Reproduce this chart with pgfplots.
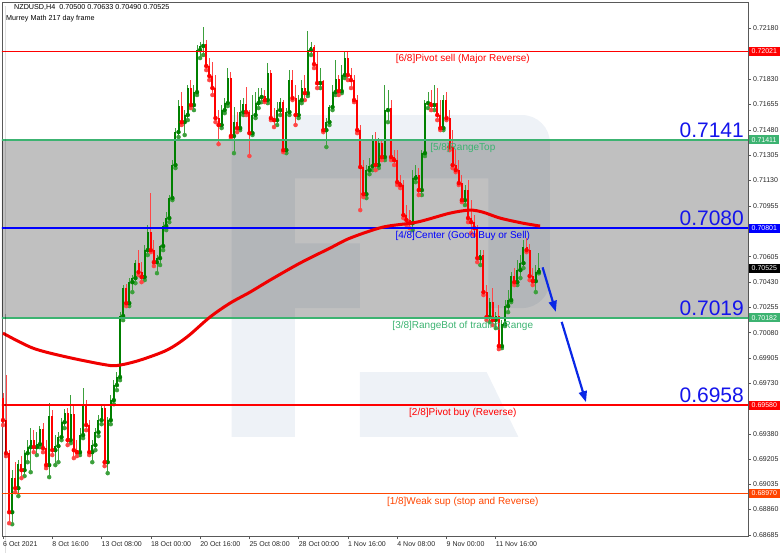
\documentclass[border=0pt]{standalone}
\usepackage{pgfplots}
\pgfplotsset{compat=1.18}
\usepackage{pgfplotstable}
\usepackage{fontspec}
\setmainfont{Liberation Sans}
\usetikzlibrary{arrows.meta}

\definecolor{upc}{RGB}{0,128,0}
\definecolor{upw}{RGB}{60,160,60}
\definecolor{dnc}{RGB}{255,0,0}
\definecolor{dnw}{RGB}{255,70,70}
\definecolor{wm}{RGB}{238,242,247}
\definecolor{lvgreen}{RGB}{60,179,113}
\definecolor{lvred}{RGB}{255,0,0}
\definecolor{lvblue}{RGB}{0,0,255}
\definecolor{lvorange}{RGB}{255,69,0}
\definecolor{numblue}{RGB}{20,20,235}
\definecolor{arrowblue}{RGB}{10,40,230}
\definecolor{maline}{RGB}{240,0,0}

% H4 candles, x = bar number
\pgfplotstableread{
x o h l c
0 0.69629 0.69663 0.69443 0.69477
1 0.69477 0.69788 0.69229 0.69249
2 0.69249 0.69270 0.68766 0.68842
3 0.68842 0.69132 0.68759 0.69077
4 0.69077 0.69187 0.68980 0.69008
5 0.69008 0.69201 0.68953 0.69173
6 0.69173 0.69229 0.69077 0.69132
7 0.69132 0.69270 0.69091 0.69249
8 0.69249 0.69339 0.69187 0.69291
9 0.69291 0.69422 0.69118 0.69339
10 0.69339 0.69408 0.69256 0.69291
11 0.69291 0.69394 0.69236 0.69311
12 0.69311 0.69436 0.69291 0.69415
13 0.69415 0.69456 0.69256 0.69284
14 0.69284 0.69339 0.69146 0.69167
15 0.69167 0.69594 0.69084 0.69505
16 0.69505 0.69546 0.69236 0.69270
17 0.69270 0.69374 0.69167 0.69298
18 0.69298 0.69394 0.69187 0.69360
19 0.69360 0.69491 0.69339 0.69463
20 0.69463 0.69553 0.69422 0.69525
21 0.69525 0.69560 0.69305 0.69339
22 0.69339 0.69650 0.69318 0.69518
23 0.69518 0.69581 0.69215 0.69270
24 0.69270 0.69339 0.69229 0.69256
25 0.69256 0.69422 0.69236 0.69374
26 0.69374 0.69698 0.69353 0.69581
27 0.69581 0.69615 0.69408 0.69443
28 0.69443 0.69477 0.69236 0.69256
29 0.69256 0.69339 0.69187 0.69305
30 0.69305 0.69422 0.69270 0.69394
31 0.69394 0.69512 0.69367 0.69477
32 0.69477 0.69581 0.69449 0.69560
33 0.69560 0.69574 0.69160 0.69187
34 0.69187 0.69498 0.69111 0.69477
35 0.69477 0.69650 0.69449 0.69615
36 0.69615 0.69753 0.69587 0.69719
37 0.69719 0.69808 0.69684 0.69774
38 0.69774 0.70222 0.69753 0.70195
39 0.70195 0.70409 0.70167 0.70388
40 0.70388 0.70415 0.70264 0.70284
41 0.70284 0.70457 0.70264 0.70429
42 0.70429 0.70478 0.70360 0.70457
43 0.70457 0.70581 0.70422 0.70560
44 0.70560 0.70650 0.70478 0.70498
45 0.70498 0.70567 0.70429 0.70464
46 0.70464 0.70685 0.70443 0.70650
47 0.70650 0.70823 0.70616 0.70774
48 0.70774 0.71043 0.70636 0.70650
49 0.70650 0.70719 0.70540 0.70567
50 0.70567 0.70616 0.70491 0.70595
51 0.70595 0.70685 0.70547 0.70678
52 0.70678 0.70843 0.70650 0.70816
53 0.70816 0.70912 0.70788 0.70871
54 0.70871 0.71030 0.70843 0.71009
55 0.71009 0.71271 0.70995 0.71237
56 0.71237 0.71492 0.71216 0.71464
57 0.71464 0.71685 0.71430 0.71644
58 0.71644 0.71740 0.71513 0.71533
59 0.71533 0.71616 0.71444 0.71582
60 0.71582 0.71789 0.71547 0.71768
61 0.71768 0.71823 0.71630 0.71651
62 0.71651 0.71789 0.71616 0.71740
63 0.71740 0.72065 0.71720 0.72030
64 0.72030 0.72085 0.71975 0.72058
65 0.72058 0.72189 0.71996 0.72071
66 0.72071 0.72099 0.71892 0.71920
67 0.71920 0.71975 0.71823 0.71851
68 0.71851 0.71947 0.71720 0.71768
69 0.71768 0.71858 0.71533 0.71561
70 0.71561 0.71616 0.71381 0.71513
71 0.71513 0.71651 0.71492 0.71616
72 0.71616 0.71699 0.71595 0.71664
73 0.71664 0.71906 0.71644 0.71837
74 0.71837 0.71878 0.71423 0.71437
75 0.71437 0.71637 0.71319 0.71533
76 0.71533 0.71602 0.71464 0.71492
77 0.71492 0.71685 0.71478 0.71602
78 0.71602 0.71699 0.71582 0.71657
79 0.71657 0.71775 0.71582 0.71602
80 0.71602 0.71616 0.71299 0.71457
81 0.71457 0.71720 0.71444 0.71582
82 0.71582 0.71740 0.71561 0.71664
83 0.71664 0.71768 0.71630 0.71706
84 0.71706 0.71768 0.71671 0.71713
85 0.71713 0.71754 0.71671 0.71685
86 0.71685 0.71940 0.71664 0.71871
87 0.71871 0.71892 0.71547 0.71561
88 0.71561 0.71630 0.71499 0.71547
89 0.71547 0.71671 0.71513 0.71616
90 0.71616 0.71699 0.71582 0.71671
91 0.71671 0.71685 0.71326 0.71340
92 0.71340 0.71630 0.71319 0.71602
93 0.71602 0.71892 0.71582 0.71823
94 0.71823 0.71892 0.71685 0.71699
95 0.71699 0.71789 0.71513 0.71582
96 0.71582 0.71720 0.71561 0.71685
97 0.71685 0.71823 0.71664 0.71768
98 0.71768 0.71858 0.71685 0.71733
99 0.71733 0.72161 0.71713 0.72030
100 0.72030 0.72085 0.71996 0.72051
101 0.72051 0.72065 0.71906 0.71933
102 0.71933 0.72016 0.71768 0.71802
103 0.71802 0.71906 0.71768 0.71816
104 0.71816 0.71823 0.71464 0.71478
105 0.71478 0.71561 0.71361 0.71533
106 0.71533 0.71651 0.71513 0.71637
107 0.71637 0.71789 0.71616 0.71740
108 0.71740 0.71961 0.71720 0.71830
109 0.71830 0.71858 0.71720 0.71747
110 0.71747 0.71927 0.71733 0.71858
111 0.71858 0.72016 0.71837 0.71975
112 0.71975 0.72016 0.71823 0.71858
113 0.71858 0.71906 0.71768 0.71823
114 0.71823 0.71858 0.71671 0.71685
115 0.71685 0.71720 0.71457 0.71478
116 0.71478 0.71513 0.70926 0.71223
117 0.71223 0.71271 0.71016 0.71036
118 0.71036 0.71237 0.71009 0.71202
119 0.71202 0.71285 0.71174 0.71230
120 0.71230 0.71444 0.71202 0.71409
121 0.71409 0.71464 0.71202 0.71237
122 0.71237 0.71423 0.71216 0.71388
123 0.71388 0.71409 0.71271 0.71292
124 0.71292 0.71789 0.71271 0.71616
125 0.71616 0.71754 0.71533 0.71630
126 0.71630 0.71685 0.71271 0.71292
127 0.71292 0.71340 0.71237 0.71271
128 0.71271 0.71340 0.71099 0.71119
129 0.71119 0.71168 0.71078 0.71099
130 0.71099 0.71133 0.70871 0.70892
131 0.70892 0.70961 0.70823 0.70857
132 0.70857 0.70926 0.70802 0.70836
133 0.70836 0.71202 0.70788 0.71147
134 0.71147 0.71237 0.71119 0.71168
135 0.71168 0.71216 0.71030 0.71064
136 0.71064 0.71340 0.71030 0.71319
137 0.71319 0.71685 0.71299 0.71664
138 0.71664 0.71740 0.71630 0.71671
139 0.71671 0.71754 0.71616 0.71651
140 0.71651 0.71789 0.71616 0.71664
141 0.71664 0.71768 0.71547 0.71582
142 0.71582 0.71685 0.71478 0.71492
143 0.71492 0.71720 0.71478 0.71685
144 0.71685 0.71740 0.71547 0.71561
145 0.71561 0.71616 0.71340 0.71361
146 0.71361 0.71478 0.71216 0.71237
147 0.71237 0.71340 0.71188 0.71202
148 0.71202 0.71271 0.71099 0.71112
149 0.71112 0.71168 0.70981 0.70995
150 0.70995 0.71099 0.70961 0.71064
151 0.71064 0.71133 0.70843 0.70871
152 0.70871 0.70995 0.70767 0.70843
153 0.70843 0.70892 0.70754 0.70802
154 0.70802 0.70823 0.70567 0.70595
155 0.70595 0.70650 0.70547 0.70616
156 0.70616 0.70650 0.70340 0.70360
157 0.70360 0.70409 0.70167 0.70188
158 0.70188 0.70319 0.70153 0.70291
159 0.70291 0.70388 0.70133 0.70167
160 0.70167 0.70222 0.70112 0.70195
161 0.70195 0.70271 0.69967 0.69988
162 0.69988 0.70167 0.69974 0.70139
163 0.70139 0.70305 0.70126 0.70264
164 0.70264 0.70374 0.70222 0.70305
165 0.70305 0.70498 0.70291 0.70471
166 0.70471 0.70526 0.70409 0.70429
167 0.70429 0.70581 0.70409 0.70512
168 0.70512 0.70616 0.70457 0.70560
169 0.70560 0.70719 0.70526 0.70671
170 0.70671 0.70733 0.70636 0.70650
171 0.70650 0.70691 0.70443 0.70471
172 0.70471 0.70526 0.70409 0.70436
173 0.70436 0.70547 0.70360 0.70500
174 0.70500 0.70633 0.70490 0.70525
}\candles

% moving average (red curve)
\pgfplotstableread{
x ma
0 0.70077
9.7 0.69974
20.8 0.69912
33.8 0.69857
38 0.69857
44.5 0.69891
53.2 0.69960
59.7 0.70050
67.2 0.70188
73.7 0.70284
80.2 0.70360
86.7 0.70443
96.4 0.70560
106.2 0.70664
112.7 0.70733
123.4 0.70809
134.4 0.70843
145.1 0.70905
151.6 0.70926
155.8 0.70912
161.4 0.70871
168.8 0.70836
174.4 0.70816
}\matable

\begin{document}
\begin{tikzpicture}
\path[use as bounding box] (0,0) rectangle (782pt,553pt);
\begin{axis}[
  at={(2pt,17pt)}, anchor=south west,
  scale only axis, width=746pt, height=534pt,
  xmin=-0.32, xmax=241.9, ymin=0.68677, ymax=0.72361,
  clip mode=individual,
  axis line style={black!65, line width=0.8pt},
  tick align=outside, major tick length=3pt,
  tick style={black!65, line width=0.6pt},
  xtick pos=left, ytick pos=right, yticklabel pos=right,
  xtick={0,16,32,48,64,80,96,112,128,144,160},
  xticklabels={6 Oct 2021, 8 Oct 16:00, 13 Oct 08:00, 18 Oct 00:00, 20 Oct 16:00,
    25 Oct 08:00, 28 Oct 00:00, 1 Nov 16:00, 4 Nov 08:00, 9 Nov 00:00, 11 Nov 16:00},
  xticklabel style={anchor=north west, inner sep=0pt, yshift=-2pt},
  ytick={0.68685,0.68860,0.69035,0.69205,0.69380,0.69730,0.69905,0.70080,
    0.70255,0.70430,0.70605,0.70955,0.71130,0.71305,0.71480,0.71655,
    0.71830,0.72180},
  yticklabels={0.68685,0.68860,0.69035,0.69205,0.69380,0.69730,0.69905,0.70080,
    0.70255,0.70430,0.70605,0.70955,0.71130,0.71305,0.71480,0.71655,
    0.71830,0.72180},
  yticklabel style={anchor=west, inner sep=0pt, xshift=2pt},
  ticklabel style={font=\fontsize{7}{8}\selectfont, text=black!85},
]
% faint "R" watermark
\fill[wm] (axis cs:74.25,0.71582) [rounded corners=28pt] -- (axis cs:177.6,0.71582)
  -- (axis cs:177.6,0.70250) [sharp corners] -- (axis cs:157.57,0.70250)
  -- (axis cs:157.57,0.71145) -- (axis cs:94.81,0.71145) -- (axis cs:94.81,0.70696)
  -- (axis cs:115.91,0.70696) -- (axis cs:115.91,0.70250) -- (axis cs:94.81,0.70250)
  -- (axis cs:94.81,0.69362) -- (axis cs:74.25,0.69362) -- cycle;
\fill[wm] (axis cs:115.91,0.69808) -- (axis cs:157.05,0.69808)
  -- (axis cs:167.31,0.69362) -- (axis cs:115.91,0.69362) -- cycle;

% range band (darkens what lies under it)
\addplot[draw=none, fill=black, fill opacity=0.247, forget plot] coordinates
  {(-1,0.70182) (-1,0.71411) (243,0.71411) (243,0.70182)};

% wicks
\addplot[upw, only marks, mark=none, forget plot,
  restrict expr to domain={\thisrow{c}-\thisrow{o}}{0:1},
  error bars/.cd, y dir=plus, y explicit, error mark=none,
  error bar style={line width=0.9pt}]
  table[x=x, y=l, y error plus expr=\thisrow{h}-\thisrow{l}] {\candles};
\addplot[dnw, only marks, mark=none, forget plot,
  restrict expr to domain={\thisrow{c}-\thisrow{o}}{-1:0},
  error bars/.cd, y dir=plus, y explicit, error mark=none,
  error bar style={line width=0.9pt}]
  table[x=x, y=l, y error plus expr=\thisrow{h}-\thisrow{l}] {\candles};
% bodies
\addplot[upc, only marks, mark=none, forget plot,
  restrict expr to domain={\thisrow{c}-\thisrow{o}}{0:1},
  error bars/.cd, y dir=plus, y explicit, error mark=none,
  error bar style={line width=2pt}]
  table[x=x, y=o, y error plus expr=\thisrow{c}-\thisrow{o}] {\candles};
\addplot[dnc, only marks, mark=none, forget plot,
  restrict expr to domain={\thisrow{c}-\thisrow{o}}{-1:0},
  error bars/.cd, y dir=plus, y explicit, error mark=none,
  error bar style={line width=2pt}]
  table[x=x, y=c, y error plus expr=\thisrow{o}-\thisrow{c}] {\candles};

% Murrey Math levels
\addplot[draw=lvred, line width=1.5pt, mark=none] coordinates {(-1,0.72021) (243,0.72021)};
\addplot[draw=lvgreen, line width=1.5pt, mark=none] coordinates {(-1,0.71411) (243,0.71411)};
\addplot[draw=lvblue, line width=1.5pt, mark=none] coordinates {(-1,0.70801) (243,0.70801)};
\addplot[draw=lvgreen, line width=1.5pt, mark=none] coordinates {(-1,0.70182) (243,0.70182)};
\addplot[draw=lvred, line width=1.5pt, mark=none] coordinates {(-1,0.69580) (243,0.69580)};
\addplot[draw=lvorange, line width=1.5pt, mark=none] coordinates {(-1,0.68970) (243,0.68970)};

% moving average
\addplot[draw=maline, line width=3pt, smooth, mark=none] table[x=x, y=ma] {\matable};

% level captions
\begin{scope}[every node/.style={anchor=north, inner sep=0pt, yshift=-3pt,
    font=\fontsize{10}{12}\selectfont}]
\node[lvred] at (axis cs:149.3,0.72021) {[6/8]Pivot sell (Major Reverse)};
\node[lvgreen] at (axis cs:149.3,0.71411) {[5/8]RangeTop};
\node[lvblue] at (axis cs:149.3,0.70801) {[4/8]Center (Good Buy or Sell)};
\node[lvgreen] at (axis cs:149.3,0.70182) {[3/8]RangeBot of trading Range};
\node[lvred] at (axis cs:149.3,0.69580) {[2/8]Pivot buy (Reverse)};
\node[lvorange] at (axis cs:149.3,0.68970) {[1/8]Weak sup (stop and Reverse)};
\end{scope}

% big level numbers
\begin{scope}[every node/.style={anchor=base east, inner sep=0pt, yshift=2.5pt,
    text=numblue, font=\fontsize{21}{24}\selectfont}]
\node at (axis cs:240.6,0.71411) {0.7141};
\node at (axis cs:240.6,0.70801) {0.7080};
\node at (axis cs:240.6,0.70182) {0.7019};
\node at (axis cs:240.6,0.69580) {0.6958};
\end{scope}

% forecast arrows
\draw[arrowblue, line width=2.2pt, -{Triangle[length=11pt,width=8pt]}]
  (axis cs:175.2,0.70531) -- (axis cs:179.5,0.70224);
\draw[arrowblue, line width=2.2pt, -{Triangle[length=11pt,width=8pt]}]
  (axis cs:181.4,0.70155) -- (axis cs:189.3,0.69601);

% header
\fill[black] (rel axis cs:0,1) ++(3pt,-4pt) -- ++(5pt,0) -- ++(-2.5pt,-3pt) -- cycle;
\node[anchor=north west, inner sep=0pt, font=\fontsize{7.2}{8}\selectfont]
  at (rel axis cs:0,1) [xshift=12pt, yshift=-2pt]
  {NZDUSD,H4\ \ 0.70500 0.70633 0.70490 0.70525};
\node[anchor=north west, inner sep=0pt, font=\fontsize{7.2}{8}\selectfont]
  at (rel axis cs:0,1) [xshift=4pt, yshift=-13pt] {Murrey Math 217 day frame};

\coordinate (b1) at (axis cs:241.9,0.72021);
\coordinate (b2) at (axis cs:241.9,0.71411);
\coordinate (b3) at (axis cs:241.9,0.70801);
\coordinate (b4) at (axis cs:241.9,0.70525);
\coordinate (b5) at (axis cs:241.9,0.70182);
\coordinate (b6) at (axis cs:241.9,0.69580);
\coordinate (b7) at (axis cs:241.9,0.68970);
\end{axis}
% price boxes on the right scale
\begin{scope}[every node/.style={anchor=west, inner xsep=3pt, inner ysep=0pt,
    minimum height=9pt, text=white, font=\fontsize{7}{8}\selectfont, xshift=0.5pt}]
\node[fill=lvred] at (b1) {0.72021};
\node[fill=lvgreen] at (b2) {0.71411};
\node[fill=lvblue] at (b3) {0.70801};
\node[fill=black] at (b4) {0.70525};
\node[fill=lvgreen] at (b5) {0.70182};
\node[fill=lvred] at (b6) {0.69580};
\node[fill=lvorange] at (b7) {0.68970};
\end{scope}
\end{tikzpicture}
\end{document}
